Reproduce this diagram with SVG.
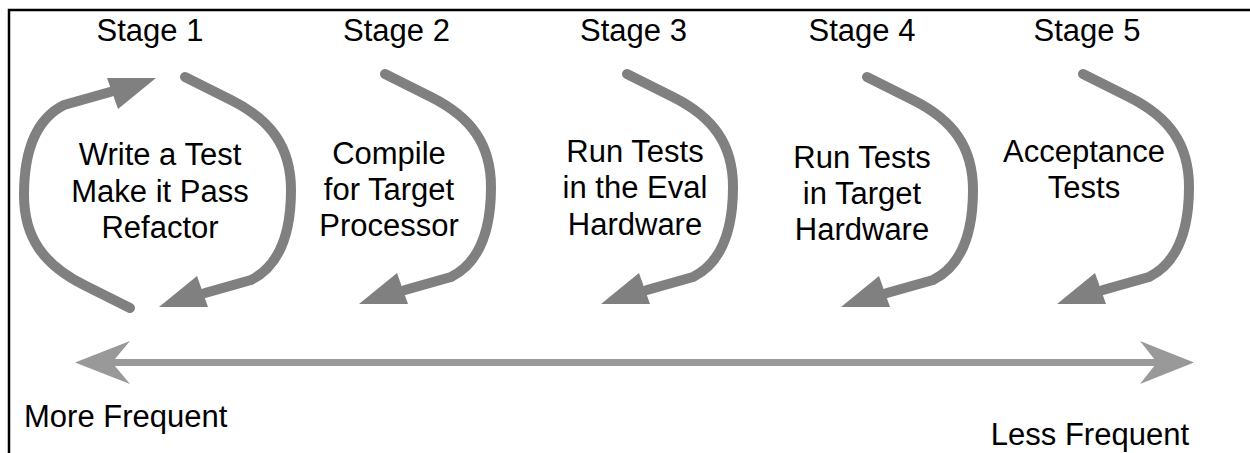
<svg xmlns="http://www.w3.org/2000/svg" xmlns:xlink="http://www.w3.org/1999/xlink" width="1250" height="453" viewBox="0 0 1250 453">
<style>
  text { font-family: "Liberation Sans", Arial, Helvetica, sans-serif; font-size: 31px; fill: #000; }
  .c { text-anchor: middle; }
  .shaft { fill: none; stroke: #808080; stroke-width: 10; stroke-linecap: round; stroke-linejoin: round; }
  .head { fill: #808080; }
  .scale { fill: none; stroke: #999999; stroke-width: 7; }
  .scalehead { fill: #999999; }
  .frame { fill: none; stroke: #000; stroke-width: 2.5; }
</style>
<defs>
  <g id="curveArrow">
    <path class="shaft" d="M0,0 L46,23 C86,43 106,70 106,113 C106,160 92,190 66,203 L20,216"/>
    <polygon class="head" points="-26,230 12,199 23,230"/>
  </g>
</defs>
<rect width="1250" height="453" fill="#fff"/>
<path class="frame" d="M9,453 L9,10 L1250,10"/>

<g id="connectors">
  <line class="scale" x1="110" y1="362.5" x2="1160" y2="362.5"/>
  <polygon class="scalehead" points="75,362.5 130,341 112,362.5 130,384"/>
  <polygon class="scalehead" points="1194,362.5 1140,341 1157,362.5 1140,384"/>
</g>

<g id="stage1">
  <text class="c" x="150" y="41">Stage 1</text>
  <use xlink:href="#curveArrow" href="#curveArrow" transform="translate(185,77)"/>
  <use xlink:href="#curveArrow" href="#curveArrow" transform="rotate(180 157.5 192.5) translate(185,77)"/>
  <text class="c" x="160" y="165">Write a Test</text>
  <text class="c" x="160" y="202">Make it Pass</text>
  <text class="c" x="160" y="238">Refactor</text>
</g>

<g id="stage2">
  <text class="c" x="396.5" y="41">Stage 2</text>
  <use xlink:href="#curveArrow" href="#curveArrow" transform="translate(385,74)"/>
  <text class="c" x="389" y="164">Compile</text>
  <text class="c" x="389" y="200">for Target</text>
  <text class="c" x="389" y="236">Processor</text>
</g>

<g id="stage3">
  <text class="c" x="633.5" y="41">Stage 3</text>
  <use xlink:href="#curveArrow" href="#curveArrow" transform="translate(627,74)"/>
  <text class="c" x="635" y="162">Run Tests</text>
  <text class="c" x="635" y="198">in the Eval</text>
  <text class="c" x="635" y="235">Hardware</text>
</g>

<g id="stage4">
  <text class="c" x="862" y="41">Stage 4</text>
  <use xlink:href="#curveArrow" href="#curveArrow" transform="translate(867,77)"/>
  <text class="c" x="862" y="168">Run Tests</text>
  <text class="c" x="862" y="204">in Target</text>
  <text class="c" x="862" y="240">Hardware</text>
</g>

<g id="stage5">
  <text class="c" x="1087" y="41">Stage 5</text>
  <use xlink:href="#curveArrow" href="#curveArrow" transform="translate(1083,74)"/>
  <text class="c" x="1084" y="162">Acceptance</text>
  <text class="c" x="1084" y="198">Tests</text>
</g>

<g id="labels">
  <text x="24" y="427">More Frequent</text>
  <text x="1189" y="445" text-anchor="end">Less Frequent</text>
</g>
</svg>
